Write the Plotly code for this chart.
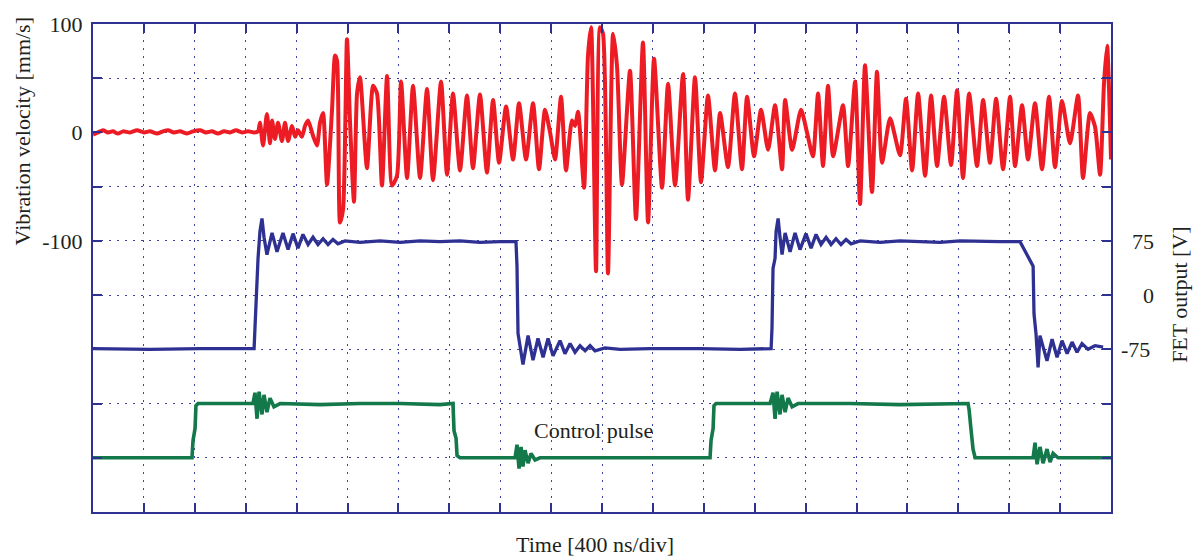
import plotly.graph_objects as go

# ---------------- data ----------------
# time in ns (400 ns / div, 20 div)
red_t = [0, 39, 79, 118, 157, 196, 236, 291, 346, 401, 448, 503, 550, 589, 637, 684, 739, 786, 841, 888,
         935, 982, 1030, 1077, 1124, 1171, 1218, 1266, 1297, 1312, 1336, 1367, 1391, 1407, 1430, 1454, 1485,
         1509, 1533, 1564, 1588, 1611, 1642, 1666, 1690, 1729, 1760, 1784, 1808, 1839, 1878, 1902, 1918, 1941,
         1965, 1996, 2020, 2051, 2075, 2098, 2153, 2201, 2232, 2271, 2311, 2350, 2389, 2421, 2468, 2515, 2570,
         2625, 2672, 2735, 2782, 2829, 2884, 2939, 2986, 3041, 3096, 3144, 3191, 3246, 3301, 3348, 3403, 3458,
         3505, 3552, 3592, 3631, 3678, 3717, 3764, 3788, 3812, 3859, 3890, 3914, 3953, 3985, 4008, 4047, 4087,
         4118, 4157, 4220, 4267, 4322, 4362, 4409, 4472, 4519, 4574, 4637, 4676, 4731, 4778, 4833, 4888, 4928,
         4990, 5045, 5100, 5140, 5195, 5250, 5305, 5360, 5415, 5439, 5494, 5564, 5611, 5658, 5698, 5737, 5776,
         5816, 5894, 5934, 5989, 6028, 6067, 6122, 6161, 6201, 6264, 6342, 6389, 6437, 6484, 6539, 6586, 6633,
         6688, 6743, 6790, 6837, 6885, 6947, 6995, 7049, 7097, 7152, 7207, 7246, 7301, 7348, 7403, 7458, 7513,
         7560, 7615, 7678, 7741, 7780, 7835, 7875, 7914, 7945, 7969, 8000]
red_v = [-2, 0, 2, 0, 1, -1, 1, 0, 2, 0, 1, -1, 1, 2, 0, 1, -1, 1, 2, 0,
         1, -1, 1, 0, 2, 0, 1, 0, 1, 9, -12, 17, -10, 11, -6, 9, -8,
         9, -8, 6, -4, 2, -4, 6, 11, -3, -12, 9, 18, -48, 20, 71, 66, -83,
         -71, 86, 9, -64, 36, 51, -33, 43, 36, -49, 52, -49, -40, 47, -42, 43, -42,
         40, -44, 47, -39, 36, -35, 34, -33, 35, -37, 30, -28, 24, -25, 27, -25, 27,
         -34, 21, 0, -25, 33, -35, 11, 6, 19, -51, 71, 97, -128, 97, 91, -130, 91,
         61, -48, 57, -80, 83, -83, 68, -51, 45, -49, 54, -62, 51, -46, 34, -35, 18,
         -32, 36, -34, 33, -22, 21, -16, 25, -34, 30, -16, 21, 0, -22, 36, -31, 43,
         -22, 25, -31, 47, -66, 62, -55, 56, -28, 13, -21, 31, -35, 36, -40, 34, -31,
         33, -30, 39, -42, 36, -31, 30, -28, 31, -34, 33, -31, 25, -25, 27, -34, 33,
         -32, 29, -10, 34, -42, 18, 5, -39, 45, 80, -25]

fet_t = [0, 448, 841, 1257, 1266, 1273, 1289, 1297, 1312, 1328, 1344, 1367, 1407, 1446, 1493, 1533, 1572,
         1611, 1650, 1690, 1729, 1768, 1808, 1847, 1886, 1925, 1980, 2098, 2256, 2413, 2570, 2727, 2884, 3041,
         3199, 3324, 3332, 3340, 3379, 3419, 3458, 3497, 3537, 3576, 3615, 3670, 3709, 3749, 3788, 3827, 3867,
         3906, 3945, 4024, 4142, 4377, 4770, 5085, 5329, 5336, 5344, 5360, 5368, 5384, 5399, 5415, 5439, 5478,
         5517, 5556, 5603, 5643, 5682, 5721, 5761, 5800, 5839, 5878, 5918, 5957, 6028, 6185, 6342, 6499, 6657,
         6814, 6971, 7128, 7285, 7388, 7395, 7411, 7427, 7442, 7497, 7537, 7576, 7615, 7655, 7694, 7733, 7772,
         7820, 7875, 7938, 8000]
fet_v = [-74, -75, -74, -74, -74, -45, 37, 51, 88, 106, 80, 56, 86, 60, 86, 63, 85,
         65, 84, 70, 80, 70, 78, 70, 77, 71, 75, 73, 75, 73, 75, 74, 75, 73,
         74, 74, 40, -53, -96, -56, -90, -60, -86, -60, -84, -63, -81, -67, -79, -70, -77,
         -70, -77, -73, -75, -74, -74, -75, -74, -45, 37, 51, 88, 106, 80, 56, 86,
         60, 86, 63, 85, 65, 84, 70, 80, 70, 78, 70, 77, 71, 75, 73, 75, 74,
         73, 75, 74, 74, 74, 40, -26, -54, -100, -56, -91, -61, -86, -63, -81, -65, -79,
         -67, -75, -70, -72]

pulse_t = [0, 448, 778, 786, 802, 809, 825, 1077, 1257, 1273, 1289, 1305, 1328, 1344, 1367, 1391, 1422,
           1470, 1784, 2098, 2413, 2727, 2829, 2837, 2853, 2861, 2884, 3120, 3317, 3332, 3348, 3364, 3379,
           3395, 3419, 3442, 3474, 3513, 3985, 4613, 4849, 4857, 4873, 4880, 4896, 5321, 5344, 5360, 5376,
           5399, 5415, 5439, 5462, 5494, 5541, 5949, 6342, 6877, 6885, 6900, 6916, 6932, 7388, 7403, 7419,
           7442, 7466, 7497, 7521, 7545, 7584, 8000]
pulse_v = [-300, -300, -300, -284, -273, -252, -250, -250, -250, -240, -264, -239, -260, -242, -258, -245, -253,
           -250, -251, -250, -250, -251, -250, -275, -282, -298, -300, -300, -300, -288, -310, -290, -308,
           -293, -305, -296, -302, -300, -300, -300, -300, -284, -273, -252, -250, -250, -240, -264, -239,
           -260, -242, -258, -245, -253, -250, -250, -251, -250, -256, -274, -292, -300, -300, -286, -306,
           -290, -305, -292, -304, -296, -300, -300]

left_tick_vals = [100, 50, 0, -50, -100, -150, -200, -250, -300, -350]
left_tick_text = ["100", "", "0", "", "-100", "", "", "", "", ""]
right_tick_vals = [75, 0, -75]
right_tick_text = ["\u200775", "\u2007\u20070", "-75"]

# ---------------- styling ----------------
FONT = "Liberation Serif"
AXC = "#2E3192"
GRIDC = "#3C43A0"

fig = go.Figure()
fig.add_trace(go.Scatter(x=red_t, y=red_v, mode="lines",
                         line=dict(color="#ED1C24", width=4, shape="spline", smoothing=0.6),
                         name="Vibration velocity", showlegend=False))
fig.add_trace(go.Scatter(x=fet_t, y=fet_v, mode="lines", line=dict(color="#2E3192", width=3.3),
                         name="FET output", yaxis="y2", showlegend=False))
fig.add_trace(go.Scatter(x=pulse_t, y=pulse_v, mode="lines", line=dict(color="#13784A", width=3.6),
                         name="Control pulse", showlegend=False))

fig.update_layout(
    width=1195, height=556,
    margin=dict(l=93, r=84, t=20, b=44),
    paper_bgcolor="white", plot_bgcolor="white",
    font=dict(family=FONT, size=22, color="#231F20"),
    xaxis=dict(range=[0, 8000], tick0=0, dtick=400, showticklabels=False,
               ticks="inside", ticklen=9, tickwidth=1.5, tickcolor=AXC,
               showline=True, linecolor=AXC, linewidth=2, mirror="ticks",
               showgrid=True, gridcolor=GRIDC, gridwidth=1.3, griddash="2px,6px",
               zeroline=False),
    yaxis=dict(range=[-350, 100], tickvals=left_tick_vals, ticktext=left_tick_text,
               ticks="inside", ticklen=9, tickwidth=1.5, tickcolor=AXC,
               showline=True, linecolor=AXC, linewidth=2, mirror="ticks",
               showgrid=True, gridcolor=GRIDC, gridwidth=1.3, griddash="2px,6px",
               zeroline=False, ticklabelstandoff=4),
    yaxis2=dict(range=[-300, 375], overlaying="y", side="right",
                tickvals=right_tick_vals, ticktext=right_tick_text,
                ticks="", showgrid=False, showline=False, zeroline=False,
                ticklabelstandoff=9),
)

fig.add_annotation(text="Vibration velocity [mm/s]", xref="paper", yref="paper",
                   x=-0.0697, y=0.780, textangle=-90, showarrow=False,
                   xanchor="center", yanchor="middle")
fig.add_annotation(text="FET output [V]", xref="paper", yref="paper",
                   x=1.0678, y=0.445, textangle=-90, showarrow=False,
                   xanchor="center", yanchor="middle")
fig.add_annotation(text="Time [400 ns/div]", xref="paper", yref="paper",
                   x=0.493, y=-0.067, showarrow=False, xanchor="center", yanchor="middle")
fig.add_annotation(text="Control pulse", xref="x", yref="y", x=3937, y=-275,
                   showarrow=False, xanchor="center", yanchor="middle")

fig.write_html("out.html")
